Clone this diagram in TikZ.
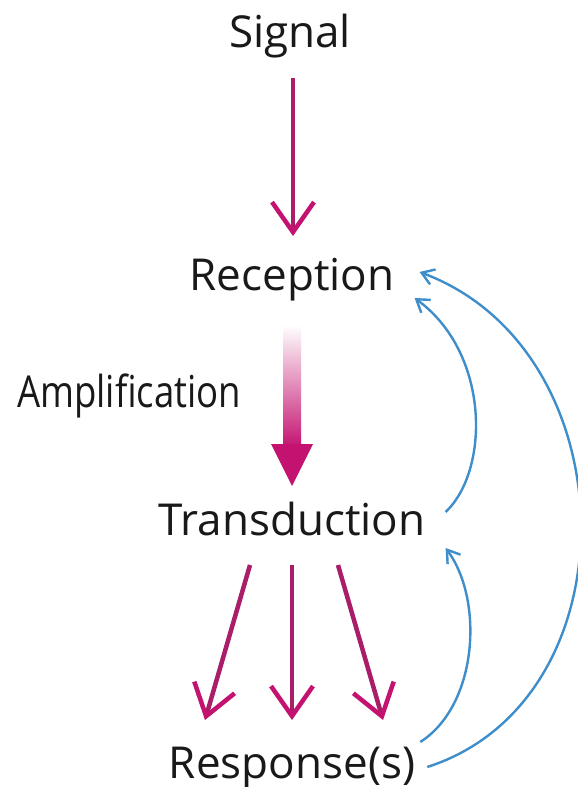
\documentclass[tikz,border=0pt]{standalone}
\usepackage{fontspec}
\setmainfont{Open Sans}
\usetikzlibrary{arrows.meta,calc}
\definecolor{mag}{RGB}{196,18,112}
\definecolor{magdark}{RGB}{170,30,105}
\definecolor{fb}{RGB}{62,142,204}
\definecolor{txt}{RGB}{25,25,25}
\tikzset{
  lbl/.style={anchor=base,inner sep=0pt,text=txt,font=\fontsize{44}{52}\selectfont},
  magarrow/.style={draw=magdark,line width=4.5pt,
    -{Straight Barb[length=30pt,width=42pt,line width=4.5pt,color=mag]}},
  fbarrow/.style={draw=fb,line width=2.4pt,
    -{Straight Barb[length=12pt,width=16pt,line width=2.4pt]}}
}
\begin{document}
\begin{tikzpicture}[x=1pt,y=-1pt]
\useasboundingbox (0,0) rectangle (578,787);
\clip (0,0) rectangle (578,787);
\fill[white] (0,0) rectangle (578,787);

\node[lbl] (sig) at (290,47) {Signal};
\node[lbl] (rec) at (292,290) {Reception};
\node[lbl,anchor=base west,xscale=0.83] (amp) at (17,407) {Amplification};
\node[lbl] (trans) at (292,535) {Transduction};
\node[lbl] (resp) at (292,778) {Response(s)};

% signal -> reception
\draw[magarrow] ($(sig.base)+(3,31)$) -- ($(rec.base)+(1,-54)$);

% amplification arrow (gradient)
\shade[top color=white, bottom color=mag] ($(rec.base)+(-9,35)$) rectangle ($(rec.base)+(9,158)$);
\fill[mag] ($(rec.base)+(-21,154)$) -- ($(rec.base)+(21,154)$) -- ($(rec.base)+(0,196)$) -- cycle;

% transduction -> responses
\draw[magarrow] ($(trans.base)+(-42,30)$) -- ($(resp.base)+(-87,-58)$);
\draw[magarrow] ($(trans.base)+(0,30)$) -- ($(resp.base)+(0,-58)$);
\draw[magarrow] ($(trans.base)+(46,30)$) -- ($(resp.base)+(91,-58)$);

% feedback arcs
\coordinate (t1) at ($(trans.base east)+(20,-23)$);
\coordinate (r1) at ($(rec.base east)+(20,8)$);
\coordinate (r2) at ($(rec.base east)+(25,-18)$);
\coordinate (s1) at ($(resp.base east)+(12,-11)$);
\coordinate (s2) at ($(resp.base east)+(5,-36)$);
\coordinate (t2) at ($(trans.base east)+(20,13)$);

\draw[fbarrow] (t1) .. controls (490,470) and (490,353) .. (r1);
\draw[fbarrow] (s1) .. controls (636,700) and (630,350) .. (r2);
\draw[fbarrow] (s2) .. controls (478,705) and (484,600) .. (t2);
\end{tikzpicture}
\end{document}
